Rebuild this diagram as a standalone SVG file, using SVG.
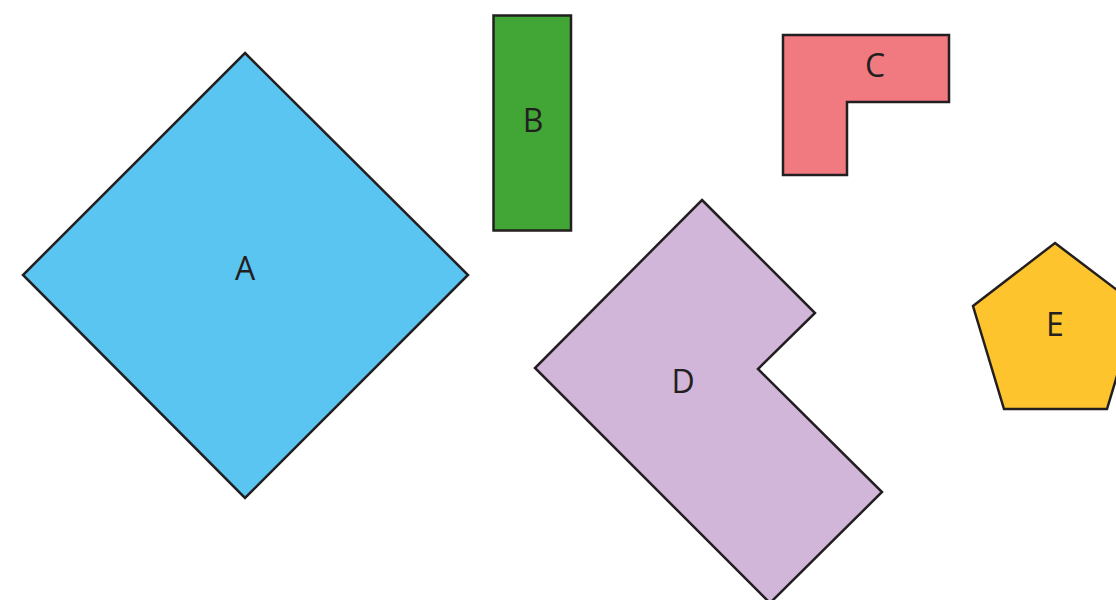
<svg xmlns="http://www.w3.org/2000/svg" width="1116" height="600" viewBox="0 0 1116 600">
<style>
.s{stroke:#231F20;stroke-width:2.5;stroke-linejoin:miter}
.t{font-family:"Open Sans","Noto Sans",sans-serif;font-size:32px;fill:#231F20;text-anchor:middle}
</style>
<rect width="1116" height="600" fill="#fff"/>
<g id="A"><polygon class="s" fill="#5BC5F2" points="245,53 468,275 245,498 23,275"/><text class="t" x="245" y="280">A</text></g>
<g id="B"><rect class="s" fill="#41A636" x="493.5" y="15.5" width="77.5" height="215"/><text class="t" x="533" y="132">B</text></g>
<g id="C"><polygon class="s" fill="#F07A80" points="783,35 949,35 949,102 847,102 847,175 783,175"/><text class="t" x="875" y="77">C</text></g>
<g id="D"><polygon class="s" fill="#D1B6DA" points="702,200 815,313 758,369 882,492 770,603 535,368"/><text class="t" x="683" y="393">D</text></g>
<g id="E"><polygon class="s" fill="#FDC42D" points="1055,243 1138,306 1107,409 1004,409 973,306"/><text class="t" x="1055" y="336">E</text></g>
<g id="connectors"/>
</svg>
